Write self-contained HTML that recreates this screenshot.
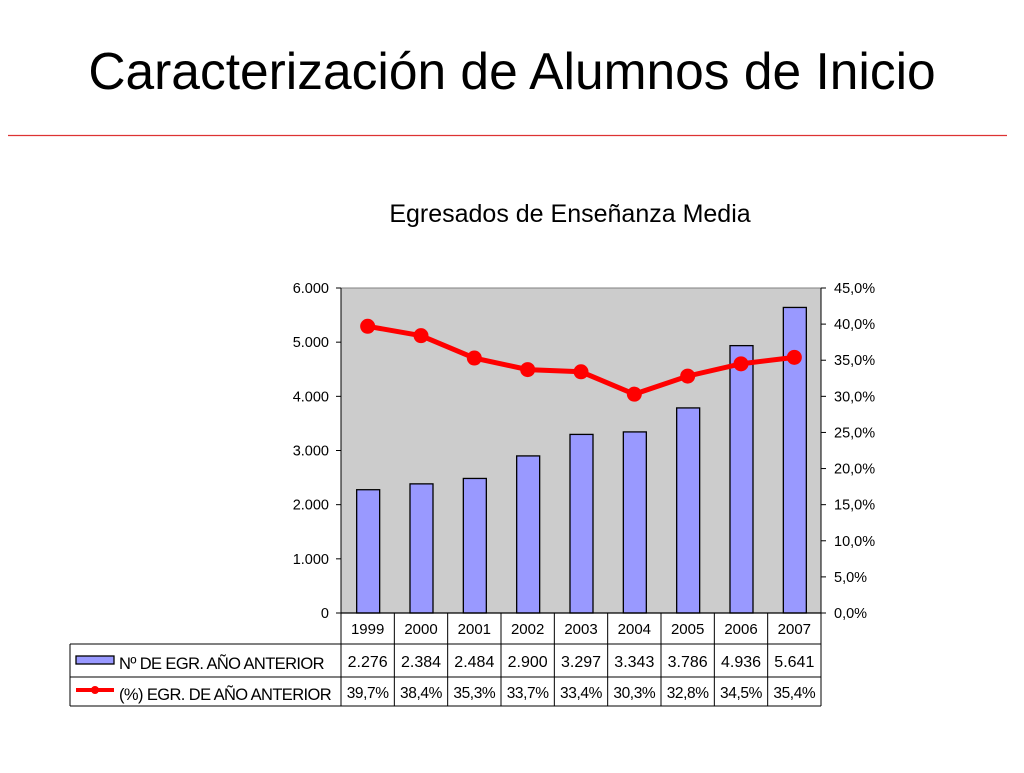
<!DOCTYPE html>
<html><head><meta charset="utf-8"><style>
body{margin:0;width:1024px;height:768px;background:#fff;overflow:hidden;font-family:"Liberation Sans",sans-serif}
</style></head><body>
<svg id="c" width="1024" height="768" xmlns="http://www.w3.org/2000/svg">
<text x="512" y="89" text-anchor="middle" font-size="51.5" fill="#000">Caracterización de Alumnos de Inicio</text>
<line x1="8" y1="135.5" x2="1007" y2="135.5" stroke="#d33" stroke-width="1.2"/>
<text x="570" y="222" text-anchor="middle" font-size="25">Egresados de Enseñanza Media</text>
</svg>
<script>
const categories=["1999","2000","2001","2002","2003","2004","2005","2006","2007"];
const counts=[2276,2384,2484,2900,3297,3343,3786,4936,5641];
const pcts=[39.7,38.4,35.3,33.7,33.4,30.3,32.8,34.5,35.4];
const leftTicks=[0,1000,2000,3000,4000,5000,6000];
const rightTicks=[0,5,10,15,20,25,30,35,40,45];
const leftLabels=["0","1.000","2.000","3.000","4.000","5.000","6.000"];
const rightLabels=["0,0%","5,0%","10,0%","15,0%","20,0%","25,0%","30,0%","35,0%","40,0%","45,0%"];
const countLabels=["2.276","2.384","2.484","2.900","3.297","3.343","3.786","4.936","5.641"];
const pctLabels=["39,7%","38,4%","35,3%","33,7%","33,4%","30,3%","32,8%","34,5%","35,4%"];

const svg=document.getElementById('c');const NS="http://www.w3.org/2000/svg";
function mk(t,a,p){const e=document.createElementNS(NS,t);for(const k in a)e.setAttribute(k,a[k]);(p||svg).appendChild(e);return e;}
const L=341,R=821,T=288,B=613,bw=(R-L)/categories.length;
const yL=v=>B-(v/6000)*(B-T);
const yR=v=>B-(v/45)*(B-T);
const xC=i=>L+bw*(i+0.5);
const plot=mk('rect',{x:L,y:T,width:R-L,height:B-T,fill:'#cccccc',stroke:'#808080'});


mk('line',{x1:L,y1:T,x2:L,y2:B,stroke:'#000'});
mk('line',{x1:R,y1:T,x2:R,y2:B,stroke:'#000'});
leftTicks.forEach((v,i)=>{
 mk('line',{x1:L-5,y1:yL(v),x2:L,y2:yL(v),stroke:'#000'});
 const t=mk('text',{x:L-12,y:yL(v)+5,'text-anchor':'end','font-size':14.5});t.textContent=leftLabels[i];
 
 
});
rightTicks.forEach((v,i)=>{
 mk('line',{x1:R,y1:yR(v),x2:R+5,y2:yR(v),stroke:'#000'});
 const t=mk('text',{x:R+13,y:yR(v)+5,'font-size':14.5});t.textContent=rightLabels[i];
 
 
});
counts.forEach((v,i)=>{
 const r=mk('rect',{x:xC(i)-11,y:yL(v),width:23,height:B-yL(v),fill:'#9999ff',stroke:'#000','stroke-width':1.3});
 
 
});
const pl=mk('polyline',{points:pcts.map((v,i)=>xC(i)+','+yR(v)).join(' '),fill:'none',stroke:'#ff0000','stroke-width':5});


pcts.forEach((v,i)=>{
 const c=mk('circle',{cx:xC(i),cy:yR(v),r:7.5,fill:'#ff0000'});
 
 
});
mk('line',{x1:L,y1:B,x2:R,y2:B,stroke:'#000','stroke-width':1.3});
const r1=613,r2=644,r3=677,r4=706,TL=70;
mk('line',{x1:TL,y1:r2,x2:R,y2:r2,stroke:'#000'});
mk('line',{x1:TL,y1:r3,x2:R,y2:r3,stroke:'#000'});
mk('line',{x1:TL,y1:r4,x2:R,y2:r4,stroke:'#000'});
mk('line',{x1:TL,y1:r2,x2:TL,y2:r4,stroke:'#000'});
for(let i=0;i<=categories.length;i++)mk('line',{x1:L+bw*i,y1:r1,x2:L+bw*i,y2:r4,stroke:'#000'});
categories.forEach((c,i)=>{
 const a=mk('text',{x:xC(i),y:634,'text-anchor':'middle','font-size':15});a.textContent=c;
 
 
 const b=mk('text',{x:xC(i),y:667,'text-anchor':'middle','font-size':16});b.textContent=countLabels[i];
 
 
 const d=mk('text',{x:xC(i),y:698,'text-anchor':'middle','font-size':15.5,'letter-spacing':'-0.4'});d.textContent=pctLabels[i];
 
 
});
const lk1=mk('rect',{x:76,y:656,width:38,height:8,fill:'#9999ff',stroke:'#000','stroke-width':1.3});


const lt1=mk('text',{x:119,y:669,'font-size':16.5,'letter-spacing':'-0.6'});lt1.textContent='Nº DE EGR. AÑO ANTERIOR';


mk('line',{x1:76,y1:690,x2:114,y2:690,stroke:'#ff0000','stroke-width':4});
const lk2=mk('circle',{cx:95,cy:690,r:4,fill:'#ff0000'});


const lt2=mk('text',{x:119,y:700,'font-size':16.5,'letter-spacing':'-0.6'});lt2.textContent='(%) EGR. DE AÑO ANTERIOR';


</script>
</body></html>
